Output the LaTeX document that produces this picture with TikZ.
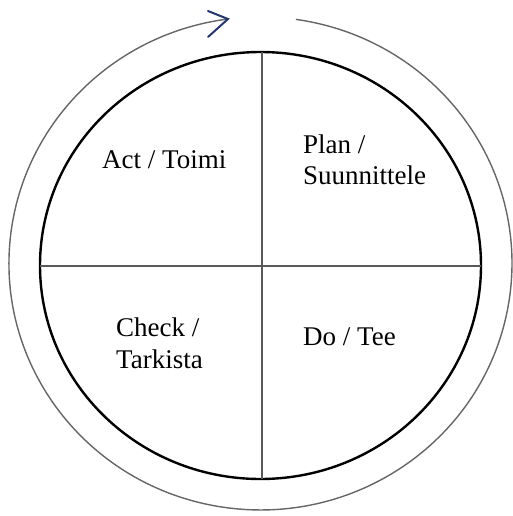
\documentclass[tikz,border=0pt]{standalone}
\usepackage{fontspec}
\setmainfont{Liberation Serif}
\definecolor{arrowblue}{RGB}{35,55,115}
\begin{document}
\begin{tikzpicture}[x=1pt,y=-1pt,
  lbl/.style={anchor=base west,inner sep=0pt,font=\fontsize{27}{31}\selectfont},
  ring/.style={draw=black!60,line width=1.4pt},
  wheel/.style={draw=black,line width=2.4pt},
  divider/.style={draw=black!65,line width=1.4pt},
  chevron/.style={draw=arrowblue,line width=2pt,line cap=round,line join=miter}]
\useasboundingbox (0,0) rectangle (513,516);
% outer cycle arc with gap at the top
\coordinate (arcstart) at (295.9,19.4);
\draw[ring] (arcstart) arc[start angle=-81.9, end angle=262.6, x radius=251.5, y radius=246.5];
% arrow head
\coordinate (tip) at (228,19);
\draw[chevron] (208,11) -- (tip) -- (208,37);
% inner wheel
\draw[wheel] (260.5,265.5) ellipse [x radius=220.5, y radius=213.5];
\coordinate (top) at (262,52.2);
\coordinate (bottom) at (262,478.8);
\coordinate (left) at (40.2,266);
\coordinate (right) at (480.8,266);
\draw[divider] (top) -- (bottom);
\draw[divider] (left) -- (right);
% labels
\node[lbl] (act) at (102,168) {Act / Toimi};
\node[lbl] (plan1) at (303,153) {Plan /};
\node[lbl] (plan2) at (303,184) {Suunnittele};
\node[lbl] (check1) at (116,336) {Check /};
\node[lbl] (check2) at (116,368) {Tarkista};
\node[lbl] (do) at (303,345) {Do / Tee};
\end{tikzpicture}
\end{document}
